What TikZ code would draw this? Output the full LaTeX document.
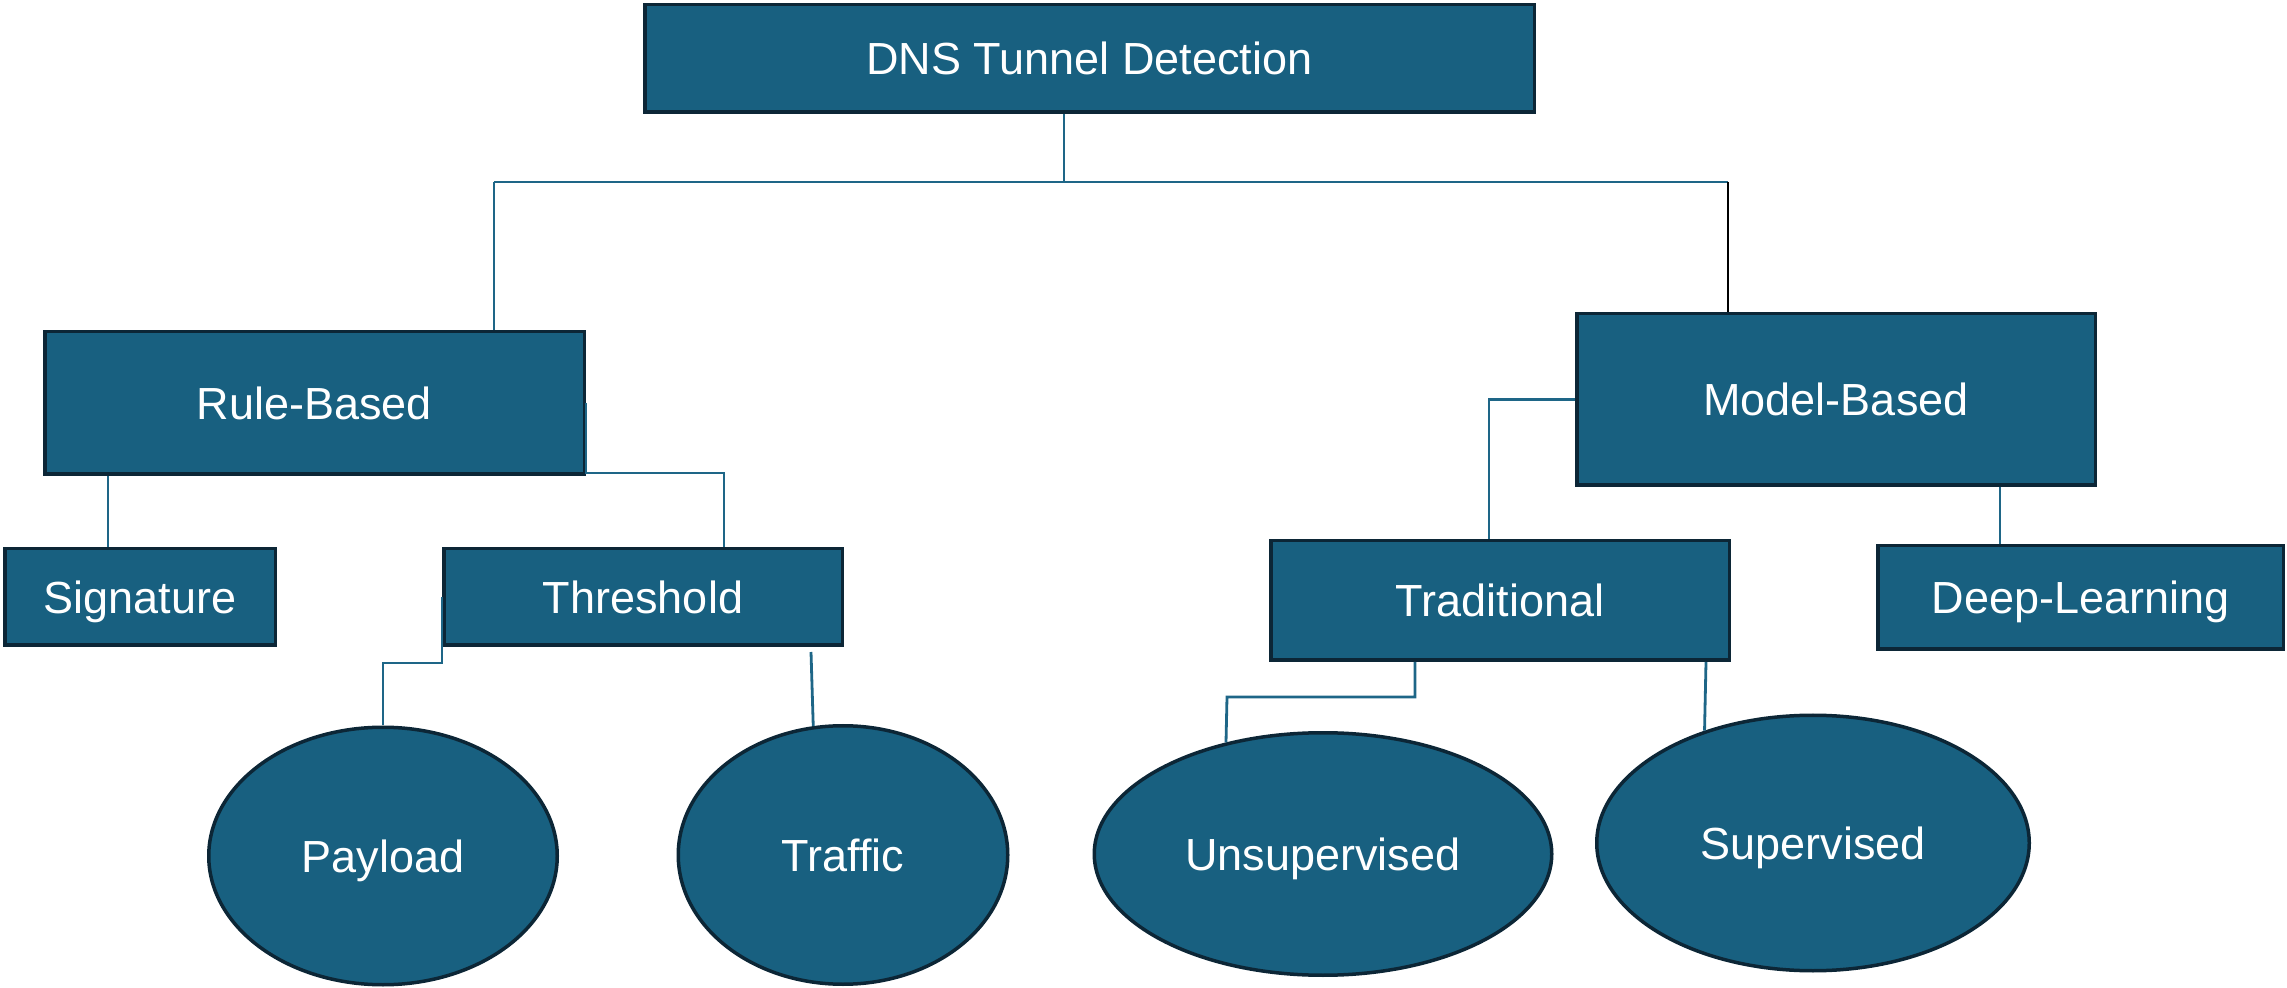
\documentclass[tikz,border=0pt]{standalone}
\usepackage{fontspec}
\setmainfont{Liberation Sans}
\usetikzlibrary{shapes.geometric}
\definecolor{boxfill}{RGB}{24,96,128}
\definecolor{boxline}{RGB}{12,38,54}
\definecolor{conn}{RGB}{30,102,135}
\begin{document}
\begin{tikzpicture}[x=0.5pt,y=-0.5pt,
  box/.style={rectangle,draw=boxline,fill=boxfill,line width=1.75pt,text=white,
    font=\fontsize{22.5}{27}\selectfont,inner sep=0pt,text height=16.1pt,text depth=0pt},
  oval/.style={box,ellipse},
  link/.style={draw=conn,line width=1.4pt}]
\useasboundingbox (0,0) rectangle (2287,988);

\node[box,minimum width=444.75pt,minimum height=53.75pt] (top) at (1089.5,58.5) {DNS Tunnel Detection};
\node[box,minimum width=269.75pt,minimum height=71.25pt] (rule) at (314.5,403) {Rule-Based};
\node[box,minimum width=259.25pt,minimum height=85.75pt] (model) at (1836,399.5) {Model-Based};
\node[box,minimum width=135.25pt,minimum height=48.25pt] (sig) at (140,597) {Signature};
\node[box,minimum width=199.25pt,minimum height=48.25pt] (thr) at (643,597) {Threshold};
\node[box,minimum width=229.25pt,minimum height=59.75pt] (trad) at (1500,600.5) {Traditional};
\node[box,minimum width=202.75pt,minimum height=51.75pt] (deep) at (2080.5,597.5) {Deep-Learning};
\node[oval,minimum width=174.25pt,minimum height=128.75pt] (payload) at (383,856) {Payload};
\node[oval,minimum width=164.75pt,minimum height=129.25pt] (traffic) at (843,855) {Traffic};
\node[oval,minimum width=228.75pt,minimum height=121.25pt] (unsup) at (1323,854) {Unsupervised};
\node[oval,minimum width=216.25pt,minimum height=127.75pt] (sup) at (1813,843) {Supervised};

\coordinate (busL) at (494,182);
\coordinate (busM) at (1064,182);
\coordinate (busR) at (1728,182);
\draw[link] (top.south -| busM) -- (busM);
\draw[link] (busL) -- (busR);
\draw[link] (busL) -- (busL |- rule.north);
\draw[link,draw=black] (busR) -- (busR |- model.north);

\coordinate (sx) at (108,500);
\draw[link] (sx |- rule.south) -- (sx |- sig.north);
\coordinate (rt) at (724,473);
\draw[link] (rule.east) -- (rule.east |- rt) -- (rt) -- (rt |- thr.north);
\coordinate (tp) at (383,663);
\draw[link] (thr.west) -- (thr.west |- tp) -- (tp) -- (payload.north);
\coordinate (tt) at (811,652);
\draw[link] (tt) -- (traffic.103);

\coordinate (mt) at (1489,403);
\draw[link] (model.west) -- (model.west -| mt) -- (mt |- trad.north);
\coordinate (md) at (2000,500);
\draw[link] (md |- model.south) -- (md |- deep.north);
\coordinate (tu) at (1415,697);
\coordinate (tu2) at (1227,697);
\draw[link] (tu |- trad.south) -- (tu) -- (tu2) -- (unsup.131);
\coordinate (ts) at (1706,700);
\draw[link] (ts |- trad.south) -- (sup.134);
\end{tikzpicture}
\end{document}
